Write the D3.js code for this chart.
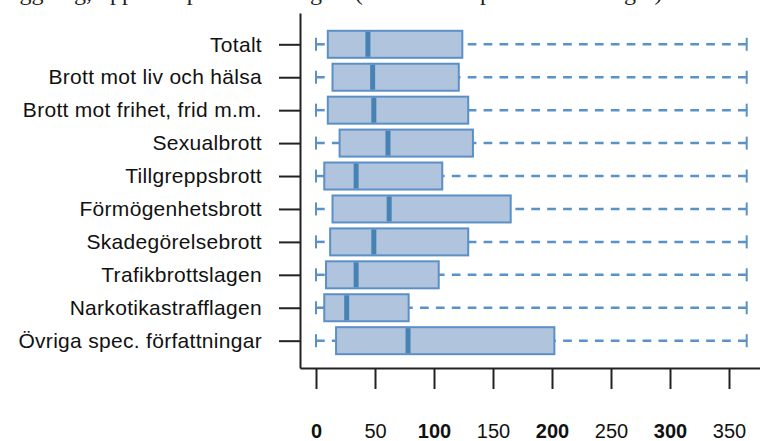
<!DOCTYPE html>
<html>
<head>
<meta charset="utf-8">
<script src="https://cdn.jsdelivr.net/npm/d3@7"></script>
<style>
  body { margin: 0; background: #fff; }
  text { font-family: "Liberation Sans", Arial, sans-serif; }
</style>
</head>
<body>
<svg class="chart"></svg>
<script>
// box plot per brottskategori, days

var categories = ["Totalt", "Brott mot liv och hälsa", "Brott mot frihet, frid m.m.",
                  "Sexualbrott", "Tillgreppsbrott", "Förmögenhetsbrott", "Skadegörelsebrott",
                  "Trafikbrottslagen", "Narkotikastrafflagen", "Övriga spec. författningar"];
var mins    = [0, 0, 0, 0, 0, 0, 0, 0, 0, 0];
var q1      = [10, 14, 10, 20, 7, 14, 12, 8.5, 7, 17];
var medians = [44, 48, 49, 61, 34, 62, 49, 34, 26, 78];
var q3      = [124, 121, 129, 133, 107, 165, 129, 104, 78.5, 202];
var maxs    = [365, 365, 365, 365, 365, 365, 365, 365, 365, 365];
var xTicks  = [0, 50, 100, 150, 200, 250, 300, 350];
var title   = "Tid för handläggning, uppdelat på brottskategori (median och percentiler i dagar)";

var width = 760, height = 441;
var boxH = 27, capH = 13;

var rows = categories.map(function(c, i) {
  return { cat: c, min: mins[i], q1: q1[i], med: medians[i], q3: q3[i], max: maxs[i] };
});

var chart = d3.select('.chart')
  .attr('width', width)
  .attr('height', height);

var x = d3.scaleLinear()
  .domain([-13.56, 376.27])
  .range([300, 760]);

var y = d3.scalePoint()
  .domain(categories)
  .range([13, 368])
  .padding(0.89)
  .align(0.534);

// title, cut off at the top edge (only descenders show)
chart.append('text')
  .attr('x', -117)
  .attr('y', 0)
  .style('font-family', '"Liberation Serif", "Times New Roman", serif')
  .style('font-size', '24px')
  .attr('fill', '#222')
  .text(title);

// axes
var xAxis = d3.axisBottom(x)
  .tickValues(xTicks)
  .tickSize(21)
  .tickSizeOuter(0)
  .tickPadding(35);

var gx = chart.append('g')
  .attr('transform', 'translate(0,368)')
  .call(xAxis);

gx.selectAll('text')
  .style('font-size', '20px')
  .style('font-weight', function(d, i) { return i % 2 == 0 ? 'bold' : 'normal'; })
  .attr('fill', '#111');

var yAxis = d3.axisLeft(y)
  .tickSize(21)
  .tickSizeOuter(0)
  .tickPadding(17);

var gy = chart.append('g')
  .attr('transform', 'translate(300,0)')
  .call(yAxis);

gy.selectAll('text')
  .style('font-size', '21px')
  .style('letter-spacing', '0.3px')
  .attr('fill', '#111');

chart.selectAll('.domain, .tick line')
  .attr('stroke', '#222')
  .attr('stroke-width', 2);

// boxes
var plot = chart.append('g');

plot.selectAll('.wlo')
  .data(rows)
  .enter().append('line')
  .attr('class', 'wlo')
  .attr('x1', function(d) { return x(d.min); })
  .attr('x2', function(d) { return x(d.q1); })
  .attr('y1', function(d) { return y(d.cat); })
  .attr('y2', function(d) { return y(d.cat); });

plot.selectAll('.whi')
  .data(rows)
  .enter().append('line')
  .attr('class', 'whi')
  .attr('x1', function(d) { return x(d.max); })
  .attr('x2', function(d) { return x(d.q3); })
  .attr('y1', function(d) { return y(d.cat); })
  .attr('y2', function(d) { return y(d.cat); });

plot.selectAll('.wlo, .whi')
  .attr('stroke', '#5a91c9')
  .attr('stroke-width', 2.5)
  .attr('stroke-dasharray', '8.7,7.2');

plot.selectAll('.cap')
  .data(rows.flatMap(function(d) { return [{ cat: d.cat, v: d.min }, { cat: d.cat, v: d.max }]; }))
  .enter().append('line')
  .attr('class', 'cap')
  .attr('x1', function(d) { return x(d.v); })
  .attr('x2', function(d) { return x(d.v); })
  .attr('y1', function(d) { return y(d.cat) - capH / 2; })
  .attr('y2', function(d) { return y(d.cat) + capH / 2; })
  .attr('stroke', '#5a91c9')
  .attr('stroke-width', 2);

plot.selectAll('.box')
  .data(rows)
  .enter().append('rect')
  .attr('class', 'box')
  .attr('x', function(d) { return x(d.q1); })
  .attr('y', function(d) { return y(d.cat) - boxH / 2; })
  .attr('width', function(d) { return x(d.q3) - x(d.q1); })
  .attr('height', boxH)
  .attr('fill', '#b0c4de')
  .attr('stroke', '#5b8fc6')
  .attr('stroke-width', 2);

plot.selectAll('.med')
  .data(rows)
  .enter().append('line')
  .attr('class', 'med')
  .attr('x1', function(d) { return x(d.med); })
  .attr('x2', function(d) { return x(d.med); })
  .attr('y1', function(d) { return y(d.cat) - boxH / 2 + 1; })
  .attr('y2', function(d) { return y(d.cat) + boxH / 2 - 1; })
  .attr('stroke', '#4682b4')
  .attr('stroke-width', 5);
</script>
</body>
</html>
